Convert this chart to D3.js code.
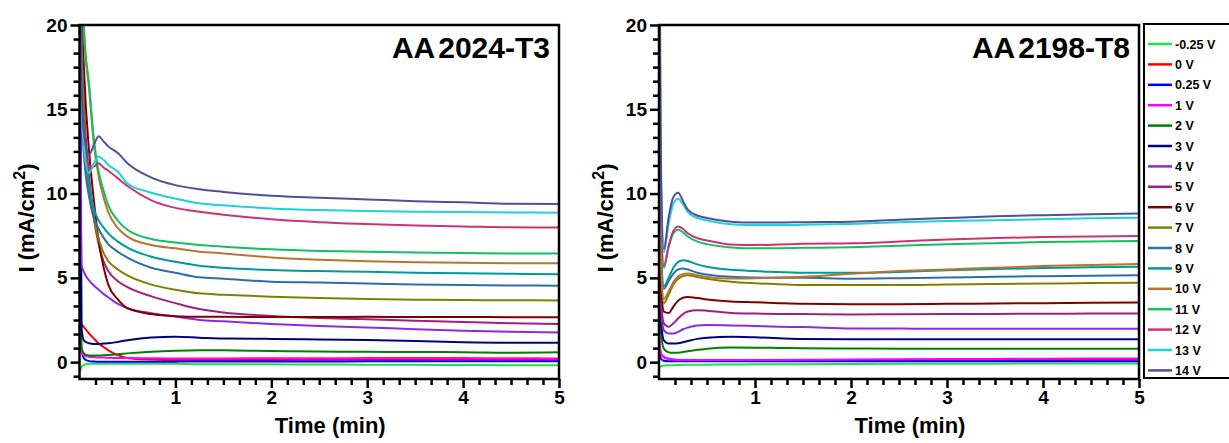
<!DOCTYPE html>
<html>
<head>
<meta charset="utf-8">
<script src="https://cdn.jsdelivr.net/npm/d3@7"></script>
<style>
body { margin: 0; background: #fff; }
text { font-family: Arial, "Liberation Sans", sans-serif; font-weight: bold; fill: #000; }
</style>
</head>
<body>
<script>
// time grid (min), shared by all curves
var times = [0, 0.02, 0.05, 0.1, 0.15, 0.2, 0.25, 0.3, 0.4, 0.5, 0.75, 1, 1.25, 1.5, 2, 2.5, 3, 3.5, 4, 4.5, 5];
var voltages = ["-0.25 V", "0 V", "0.25 V", "1 V", "2 V", "3 V", "4 V", "5 V", "6 V", "7 V", "8 V", "9 V", "10 V", "11 V", "12 V", "13 V", "14 V"];
var xTicks = [1, 2, 3, 4, 5];
var yTicks = [0, 5, 10, 15, 20];

// AA2024-T3, current density (mA/cm2)
var t3_m025 = [-0.6, -0.3, -0.15, -0.1, -0.1, -0.1, -0.1, -0.1, -0.1, -0.1, -0.1, -0.1, -0.12, -0.12, -0.13, -0.14, -0.15, -0.16, -0.17, -0.18, -0.18];
var t3_0    = [2.4, 2.25, 2.05, 1.7, 1.4, 1.1, 0.9, 0.7, 0.42, 0.25, 0.15, 0.12, 0.12, 0.12, 0.13, 0.14, 0.15, 0.15, 0.15, 0.15, 0.15];
var t3_025  = [30, 0.8, 0.2, 0.06, 0.04, 0.03, 0.03, 0.03, 0.03, 0.03, 0.03, 0.03, 0.04, 0.04, 0.04, 0.04, 0.05, 0.05, 0.05, 0.05, 0.05];
var t3_1    = [2.0, 0.6, 0.4, 0.32, 0.3, 0.28, 0.27, 0.26, 0.25, 0.24, 0.23, 0.22, 0.22, 0.22, 0.23, 0.23, 0.24, 0.24, 0.24, 0.23, 0.22];
var t3_2    = [3.5, 0.9, 0.5, 0.4, 0.4, 0.4, 0.41, 0.43, 0.47, 0.52, 0.62, 0.68, 0.71, 0.7, 0.66, 0.63, 0.61, 0.6, 0.59, 0.56, 0.58];
var t3_3    = [30, 2.0, 1.25, 1.12, 1.08, 1.08, 1.1, 1.12, 1.2, 1.3, 1.46, 1.5, 1.45, 1.4, 1.38, 1.35, 1.31, 1.25, 1.18, 1.15, 1.15];
var t3_4    = [30, 5.8, 5.3, 4.85, 4.55, 4.3, 4.05, 3.85, 3.45, 3.2, 2.9, 2.7, 2.5, 2.42, 2.26, 2.15, 2.06, 1.95, 1.86, 1.8, 1.76];
var t3_5    = [30, 20, 15, 11, 8.5, 7.0, 6.0, 5.4, 4.8, 4.45, 3.9, 3.5, 3.15, 2.95, 2.74, 2.62, 2.55, 2.45, 2.38, 2.3, 2.26];
var t3_6    = [30, 22, 17, 12.5, 9.6, 7.2, 5.66, 4.6, 3.72, 3.2, 2.85, 2.72, 2.69, 2.69, 2.68, 2.68, 2.69, 2.68, 2.68, 2.67, 2.67];
var t3_7    = [30, 20, 14, 10, 8.5, 7.3, 6.5, 6.0, 5.5, 5.15, 4.6, 4.3, 4.08, 4.0, 3.88, 3.8, 3.74, 3.7, 3.68, 3.67, 3.66];
var t3_8    = [30, 15, 12, 9.8, 8.6, 7.9, 7.4, 7.0, 6.55, 6.2, 5.6, 5.3, 5.03, 4.95, 4.77, 4.72, 4.67, 4.6, 4.57, 4.55, 4.53];
var t3_9    = [30, 16, 13.2, 10.6, 9.1, 8.4, 8.0, 7.64, 7.15, 6.8, 6.25, 5.95, 5.72, 5.6, 5.46, 5.4, 5.36, 5.3, 5.27, 5.24, 5.22];
var t3_10   = [30, 25, 19.3, 16.2, 12.9, 11.0, 9.8, 8.9, 7.95, 7.45, 6.95, 6.75, 6.55, 6.45, 6.21, 6.08, 5.99, 5.93, 5.9, 5.87, 5.86];
var t3_11   = [30, 25, 19.5, 16.5, 13.2, 11.3, 10.2, 9.3, 8.4, 7.85, 7.3, 7.1, 6.95, 6.85, 6.69, 6.6, 6.55, 6.5, 6.47, 6.45, 6.45];
var t3_12   = [30, 16, 12.8, 11.6, 11.6, 11.8, 11.55, 11.35, 10.9, 10.45, 9.6, 9.15, 8.92, 8.75, 8.47, 8.3, 8.19, 8.1, 8.05, 8.0, 7.99];
var t3_13   = [30, 16, 12.5, 11.2, 11.8, 12.2, 12.0, 11.7, 11.3, 10.6, 10.05, 9.7, 9.42, 9.3, 9.12, 9.02, 8.96, 8.92, 8.9, 8.88, 8.86];
var t3_14   = [30, 17, 13.4, 12.3, 12.9, 13.4, 13.1, 12.8, 12.4, 11.8, 10.95, 10.5, 10.25, 10.1, 9.87, 9.75, 9.65, 9.55, 9.48, 9.4, 9.38];

// AA2198-T8, current density (mA/cm2)
var t8_m025 = [-0.3, -0.25, -0.2, -0.18, -0.18, -0.17, -0.16, -0.16, -0.15, -0.15, -0.14, -0.13, -0.12, -0.12, -0.11, -0.1, -0.09, -0.09, -0.08, -0.08, -0.08];
var t8_0    = [1.2, 0.5, 0.3, 0.2, 0.15, 0.12, 0.1, 0.1, 0.1, 0.1, 0.1, 0.1, 0.1, 0.1, 0.1, 0.1, 0.1, 0.12, 0.13, 0.14, 0.15];
var t8_025  = [0.8, 0.2, 0.08, 0.05, 0.05, 0.05, 0.05, 0.05, 0.05, 0.05, 0.05, 0.05, 0.05, 0.05, 0.05, 0.05, 0.05, 0.05, 0.05, 0.05, 0.05];
var t8_1    = [2, 0.5, 0.3, 0.2, 0.15, 0.13, 0.12, 0.12, 0.12, 0.12, 0.12, 0.12, 0.13, 0.14, 0.16, 0.17, 0.18, 0.19, 0.2, 0.21, 0.22];
var t8_2    = [6, 1.8, 0.8, 0.58, 0.55, 0.56, 0.6, 0.65, 0.73, 0.8, 0.87, 0.86, 0.84, 0.82, 0.81, 0.8, 0.8, 0.79, 0.79, 0.79, 0.79];
var t8_3    = [7, 2.6, 1.3, 1.1, 1.1, 1.12, 1.18, 1.25, 1.38, 1.45, 1.5, 1.47, 1.42, 1.38, 1.36, 1.36, 1.36, 1.36, 1.36, 1.36, 1.36];
var t8_4    = [8, 3.5, 1.9, 1.7, 1.7, 1.8, 1.95, 2.05, 2.18, 2.2, 2.18, 2.14, 2.1, 2.08, 2.0, 1.99, 1.98, 1.98, 1.98, 1.98, 1.98];
var t8_5    = [9, 4, 2.3, 2.1, 2.3, 2.6, 2.85, 3.0, 3.08, 3.05, 2.92, 2.88, 2.86, 2.85, 2.83, 2.84, 2.85, 2.86, 2.87, 2.88, 2.89];
var t8_6    = [10, 5, 3.0, 2.92, 3.3, 3.65, 3.82, 3.86, 3.8, 3.72, 3.6, 3.55, 3.5, 3.46, 3.44, 3.44, 3.46, 3.48, 3.5, 3.52, 3.54];
var t8_7    = [12, 6, 3.5, 4.0, 4.6, 4.95, 5.1, 5.16, 5.05, 4.95, 4.77, 4.68, 4.62, 4.57, 4.57, 4.57, 4.6, 4.63, 4.66, 4.69, 4.71];
var t8_8    = [13, 7, 4.35, 4.8, 5.25, 5.5, 5.56, 5.5, 5.3, 5.2, 5.06, 5.02, 5.0, 5.0, 4.95, 4.98, 5.02, 5.07, 5.1, 5.13, 5.16];
var t8_9    = [13, 7, 4.5, 5.0, 5.6, 5.95, 6.05, 6.0, 5.8, 5.66, 5.48, 5.4, 5.35, 5.3, 5.3, 5.35, 5.45, 5.52, 5.58, 5.63, 5.66];
var t8_10   = [12, 6, 3.75, 4.2, 4.75, 5.1, 5.22, 5.26, 5.15, 5.05, 4.96, 4.98, 5.02, 5.06, 5.25, 5.4, 5.5, 5.6, 5.7, 5.76, 5.82];
var t8_11   = [15, 8.6, 5.6, 6.8, 7.65, 7.85, 7.7, 7.45, 7.15, 7.0, 6.8, 6.75, 6.76, 6.78, 6.82, 6.9, 7.0, 7.06, 7.12, 7.16, 7.18];
var t8_12   = [16, 9, 5.7, 6.9, 7.8, 8.05, 7.9, 7.65, 7.35, 7.22, 6.98, 6.95, 6.98, 7.02, 7.05, 7.15, 7.28, 7.36, 7.42, 7.46, 7.48];
var t8_13   = [25, 11, 6.5, 8.2, 9.4, 9.7, 9.35, 8.9, 8.55, 8.4, 8.18, 8.13, 8.13, 8.15, 8.2, 8.3, 8.37, 8.42, 8.48, 8.53, 8.57];
var t8_14   = [30, 12, 6.7, 8.6, 9.8, 10.05, 9.55, 9.05, 8.7, 8.55, 8.33, 8.28, 8.28, 8.3, 8.33, 8.45, 8.55, 8.65, 8.72, 8.78, 8.82];

var aa2024 = [t3_m025, t3_0, t3_025, t3_1, t3_2, t3_3, t3_4, t3_5, t3_6, t3_7, t3_8, t3_9, t3_10, t3_11, t3_12, t3_13, t3_14];
var aa2198 = [t8_m025, t8_0, t8_025, t8_1, t8_2, t8_3, t8_4, t8_5, t8_6, t8_7, t8_8, t8_9, t8_10, t8_11, t8_12, t8_13, t8_14];

var colors = ["#1fe04a", "#ff0000", "#0000ff", "#ff00ff", "#008000", "#000080", "#8a2be2", "#a0207f",
              "#800000", "#808000", "#2e6ea6", "#009a9a", "#b8752f", "#14c060", "#cc3377", "#1ed2d8", "#505099"];

var W = 1229, H = 443, plotTop = 25, plotBottom = 379;
var svg = d3.select("body").append("svg").attr("width", W).attr("height", H);

drawPanel(79.5, 559, "AA", "2024-T3", aa2024, "c1");
drawPanel(659, 1139, "AA", "2198-T8", aa2198, "c2");
drawLegend(1144, 24);

// functions
function drawPanel(left, right, titleA, titleB, series, clipId){
    var x = d3.scaleLinear().domain([0, 5]).range([left, right]);
    var y = d3.scaleLinear().domain([-1, 20]).range([plotBottom, plotTop]);
    var g = svg.append("g");

    g.append("clipPath").attr("id", clipId).append("rect")
        .attr("x", left).attr("y", plotTop).attr("width", right - left).attr("height", plotBottom - plotTop);

    var line = d3.line()
        .x(function(d){ return x(d[0]); })
        .y(function(d){ return y(d[1]); })
        .curve(d3.curveMonotoneX);

    g.append("g").attr("clip-path", "url(#" + clipId + ")")
        .selectAll("path").data(series).enter().append("path")
        .attr("fill", "none")
        .attr("stroke", function(d, i){ return colors[i]; })
        .attr("stroke-width", 2)
        .attr("d", function(d){ return line(times.map(function(t, j){ return [t, d[j]]; })); });

    // minor ticks: 5 between each pair of majors
    var xMinor = d3.range(0, 31).map(function(i){ return i / 6; }).filter(function(v){ return Math.abs(v - Math.round(v)) > 1e-6; });
    var yMinor = d3.range(-1, 25).map(function(i){ return i * 5 / 6; }).filter(function(v){ return v >= -1 && v <= 20 && Math.abs(v / 5 - Math.round(v / 5)) > 1e-6; });

    // frame
    g.append("path")
        .attr("d", "M" + left + "," + plotTop + "V" + plotBottom + "H" + right + "V" + plotTop + "Z")
        .attr("fill", "none").attr("stroke", "#000").attr("stroke-width", 2.5);

    var axes = [
        g.append("g").attr("transform", "translate(0," + plotBottom + ")")
            .call(d3.axisBottom(x).tickValues(xMinor).tickSize(6).tickFormat(function(){ return ""; })),
        g.append("g").attr("transform", "translate(" + left + ",0)")
            .call(d3.axisLeft(y).tickValues(yMinor).tickSize(6).tickFormat(function(){ return ""; })),
        g.append("g").attr("transform", "translate(0," + plotBottom + ")")
            .call(d3.axisBottom(x).tickValues(xTicks).tickSize(9).tickPadding(3).tickFormat(d3.format("d"))),
        g.append("g").attr("transform", "translate(" + left + ",0)")
            .call(d3.axisLeft(y).tickValues(yTicks).tickSize(9).tickPadding(3).tickFormat(d3.format("d")))
    ];
    axes.forEach(function(a){
        a.select(".domain").remove();
        a.selectAll(".tick line").style("stroke", "#000").style("stroke-width", "2.5px");
        a.selectAll(".tick text").style("font-size", "19px").style("font-family", "Arial, 'Liberation Sans', sans-serif").style("font-weight", "bold");
    });

    var tt = g.append("text").attr("x", right - 9).attr("y", plotTop + 33)
        .attr("text-anchor", "end").style("font-size", "30px");
    tt.append("tspan").text(titleA);
    tt.append("tspan").attr("dx", 3).text(titleB);

    g.append("text").attr("x", (left + right) / 2 + 11).attr("y", 433)
        .attr("text-anchor", "middle").style("font-size", "22px").text("Time (min)");

    var yl = g.append("text").attr("transform", "translate(" + (left - 46) + ",218) rotate(-90)")
        .attr("text-anchor", "middle").style("font-size", "22px");
    yl.append("tspan").text("I (mA/cm");
    yl.append("tspan").attr("dy", -9).style("font-size", "16px").text("2");
    yl.append("tspan").attr("dy", 9).text(")");
}

function drawLegend(lx, ly){
    var g = svg.append("g");
    g.append("rect").attr("x", lx).attr("y", ly).attr("width", 100).attr("height", 354)
        .attr("fill", "#fff").attr("stroke", "#000").attr("stroke-width", 2);
    var item = g.selectAll("g.item").data(voltages).enter().append("g")
        .attr("transform", function(d, i){ return "translate(" + lx + "," + (ly + 20 + i * 20.4) + ")"; });
    item.append("line").attr("x1", 4).attr("x2", 28).attr("y1", 0).attr("y2", 0)
        .attr("stroke", function(d, i){ return colors[i]; }).attr("stroke-width", 2.5);
    item.append("text").attr("x", 31).attr("y", 4.5).style("font-size", "12.5px").text(function(d){ return d; });
}
</script>
</body>
</html>
